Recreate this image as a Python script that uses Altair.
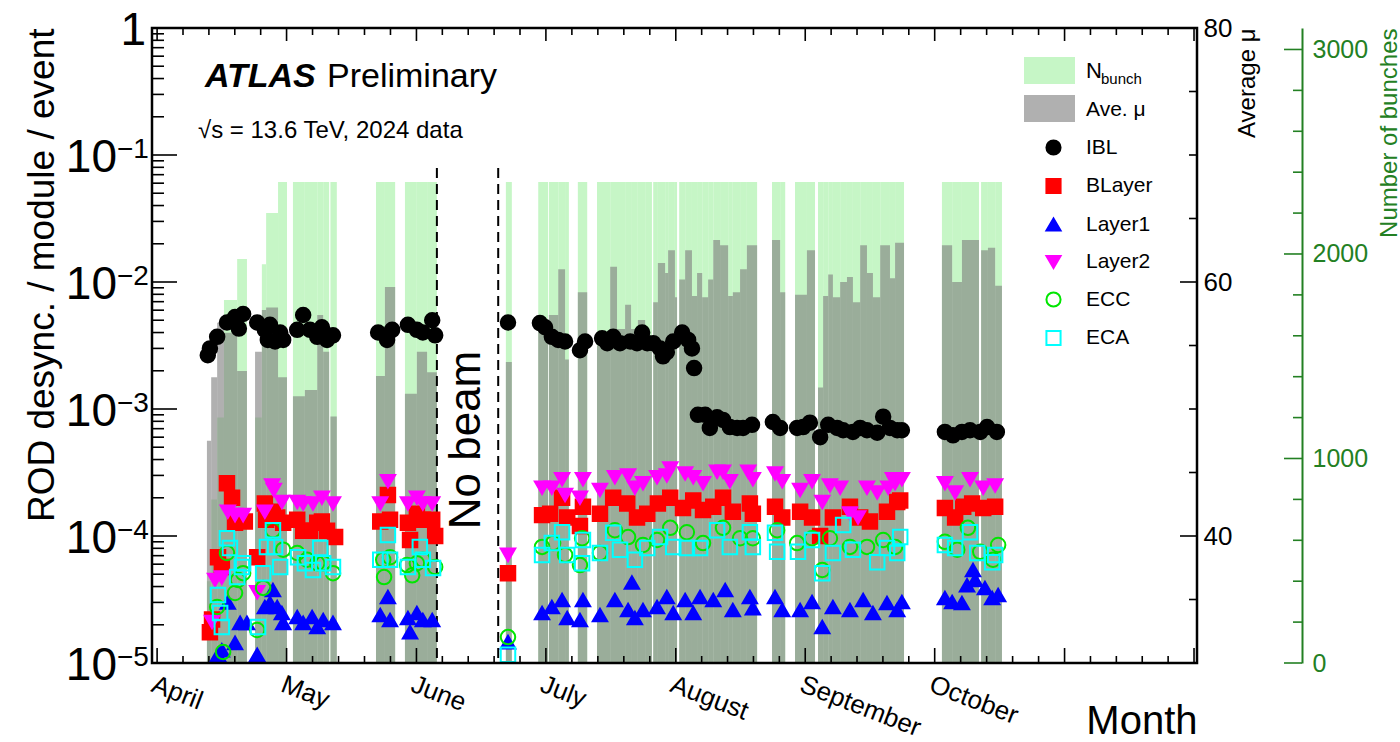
import altair as alt
import pandas as pd

FONT = "Liberation Sans"
W, H = 1045, 635
GREEN = "#238023"
GREEN_FILL = "#c6f6c6"
GREY = "#808080"

# Days counted from 1 April 2024
X_DOMAIN = [-1.6, 243.8]
MONTHS = ["April", "May", "June", "July", "August", "September", "October"]
MONTH_TICKS = [-0.4, 30.0, 60.5, 90.9, 121.4, 151.8, 182.2, 212.7, 243.1]
NO_BEAM_EDGES = [65.3, 79.7]

# (day, ROD desync. rate per module per event)
ibl = [(11.5, 2.65e-3), (12.0, 3.0e-3), (13.7, 3.7e-3), (16.0, 4.8e-3), (17.9, 5.3e-3), (18.8, 4.3e-3),
       (19.8, 5.6e-3), (23.1, 4.8e-3), (24.9, 4.2e-3), (25.6, 3.5e-3), (26.1, 4.6e-3), (27.3, 3.4e-3),
       (28.5, 4.0e-3), (29.2, 3.5e-3), (32.5, 4.2e-3), (33.9, 5.5e-3), (35.5, 4.2e-3), (37.2, 3.7e-3),
       (38.3, 4.4e-3), (39.5, 3.5e-3), (40.9, 3.8e-3),
       (51.5, 4.0e-3), (53.6, 3.5e-3), (54.8, 4.2e-3), (58.5, 4.6e-3), (60.6, 4.2e-3), (62.0, 4.0e-3),
       (64.2, 5.0e-3), (64.9, 3.8e-3),
       (82.0, 4.8e-3),
       (89.5, 4.75e-3), (90.7, 4.4e-3), (92.3, 3.7e-3), (93.8, 3.5e-3), (95.4, 3.4e-3), (98.9, 2.9e-3),
       (100.1, 3.4e-3), (104.1, 3.6e-3), (105.3, 3.3e-3), (106.7, 3.7e-3), (108.3, 3.3e-3), (110.7, 3.4e-3),
       (112.3, 3.3e-3), (113.5, 4.0e-3), (114.7, 3.3e-3), (116.1, 3.3e-3), (117.7, 3.0e-3), (118.4, 2.6e-3),
       (119.3, 2.8e-3), (120.8, 3.4e-3), (122.9, 4.0e-3), (124.3, 3.5e-3), (125.2, 3.0e-3), (125.7, 2.1e-3),
       (126.6, 9.0e-4), (128.3, 9.0e-4), (129.4, 7.1e-4), (131.1, 8.6e-4), (132.5, 8.2e-4), (134.1, 7.2e-4),
       (135.8, 7.1e-4), (137.2, 7.1e-4), (139.3, 7.5e-4), (144.2, 7.9e-4), (145.9, 7.1e-4), (149.9, 7.1e-4),
       (151.3, 7.2e-4), (152.9, 7.8e-4), (155.3, 6.0e-4), (157.2, 7.5e-4), (159.3, 7.1e-4), (160.7, 6.8e-4),
       (163.0, 6.6e-4), (164.7, 7.1e-4), (166.3, 6.8e-4), (168.7, 6.5e-4), (170.1, 8.7e-4), (171.7, 7.1e-4),
       (173.4, 6.8e-4), (174.5, 6.8e-4),
       (184.6, 6.6e-4), (186.5, 6.2e-4), (188.6, 6.6e-4), (190.5, 6.8e-4), (192.9, 6.6e-4), (194.5, 7.2e-4),
       (196.8, 6.6e-4)]

blayer = [(12.0, 1.75e-5), (12.5, 2.2e-5), (13.9, 6.8e-5), (14.8, 5.7e-5), (16.0, 2.6e-4), (17.2, 2.0e-4),
          (17.9, 1.27e-4), (19.1, 1.4e-4), (20.2, 1.3e-4), (23.1, 6.8e-5), (24.9, 1.8e-4), (25.2, 1.34e-4),
          (26.8, 1.55e-4), (27.8, 1.4e-4), (29.2, 1.27e-4), (32.5, 1.34e-4), (33.9, 1.1e-4), (35.5, 1.1e-4),
          (37.2, 1.27e-4), (38.3, 1.3e-4), (39.5, 1.1e-4), (41.4, 9.8e-5),
          (52.0, 1.3e-4), (53.8, 2.1e-4), (54.3, 1.34e-4), (58.5, 1.27e-4), (59.0, 9.3e-5), (60.6, 1.5e-4),
          (62.0, 1.34e-4), (64.2, 1.34e-4), (64.9, 1.0e-4),
          (82.0, 5.1e-5),
          (90.0, 1.46e-4), (91.9, 1.5e-4), (94.7, 2.0e-4), (95.9, 1.4e-4), (98.9, 1.2e-4), (99.6, 1.7e-4),
          (103.6, 1.5e-4), (106.7, 2.0e-4), (110.0, 1.8e-4), (112.3, 1.4e-4), (114.7, 1.5e-4), (117.2, 1.8e-4),
          (120.1, 2.0e-4), (123.1, 1.66e-4), (125.5, 1.9e-4), (127.8, 1.6e-4), (130.2, 1.7e-4), (132.5, 2.0e-4),
          (134.8, 1.55e-4), (138.8, 1.8e-4), (139.5, 1.5e-4), (144.7, 1.7e-4), (146.4, 1.4e-4), (150.6, 1.55e-4),
          (153.4, 1.4e-4), (155.3, 1.0e-4), (158.3, 1.4e-4), (162.3, 1.7e-4), (164.7, 1.4e-4), (167.0, 1.3e-4),
          (171.0, 1.55e-4), (173.4, 1.85e-4), (174.1, 1.9e-4),
          (184.6, 1.66e-4), (187.0, 1.4e-4), (188.9, 1.7e-4), (191.0, 1.8e-4), (193.6, 1.66e-4), (196.4, 1.7e-4)]

layer1 = [(13.9, 1.16e-5), (14.8, 1.26e-5), (16.2, 3.0e-5), (17.9, 1.44e-5), (19.1, 2.07e-5), (20.7, 2.07e-5),
          (23.1, 1.16e-5), (24.9, 2.76e-5), (26.1, 2.97e-5), (26.8, 3.76e-5), (27.8, 2.76e-5), (28.9, 2.48e-5),
          (29.2, 2.07e-5), (32.5, 2.3e-5), (33.9, 2.07e-5), (36.0, 2.3e-5), (37.2, 1.92e-5), (38.6, 2.18e-5),
          (40.9, 2.07e-5),
          (52.0, 2.39e-5), (53.8, 3.31e-5), (54.3, 2.18e-5), (58.5, 2.26e-5), (59.0, 1.75e-5), (60.6, 2.48e-5),
          (62.0, 2.18e-5), (64.2, 2.18e-5),
          (82.0, 1.46e-5),
          (90.0, 2.48e-5), (92.3, 2.76e-5), (94.7, 3.13e-5), (95.9, 2.26e-5), (98.9, 2.18e-5), (99.6, 3.13e-5),
          (103.6, 2.39e-5), (107.1, 3.13e-5), (110.2, 2.61e-5), (111.1, 4.3e-5), (111.8, 2.26e-5), (113.7, 2.61e-5),
          (117.0, 2.76e-5), (119.3, 3.31e-5), (120.8, 2.48e-5), (123.6, 3.13e-5), (125.5, 2.48e-5), (127.1, 3.31e-5),
          (130.2, 3.13e-5), (133.0, 3.76e-5), (134.8, 2.61e-5), (138.8, 3.31e-5), (139.5, 2.7e-5), (144.7, 3.31e-5),
          (146.4, 2.61e-5), (150.6, 2.61e-5), (153.4, 3.02e-5), (155.8, 1.92e-5), (158.3, 2.76e-5), (162.3, 2.61e-5),
          (165.4, 3.13e-5), (167.7, 2.48e-5), (171.0, 2.97e-5), (173.4, 2.61e-5), (174.5, 3.02e-5),
          (184.6, 3.25e-5), (186.3, 3.02e-5), (188.6, 2.97e-5), (189.8, 4.1e-5), (191.2, 5.4e-5), (191.7, 4.5e-5),
          (194.0, 3.9e-5), (195.7, 3.25e-5), (197.1, 3.43e-5)]

layer2 = [(12.5, 2.1e-5), (13.2, 4.5e-5), (14.8, 4.7e-5), (16.2, 1.55e-4), (17.9, 1.46e-4), (19.8, 1.46e-4),
          (23.1, 3.6e-5), (24.9, 1.55e-4), (26.6, 2.5e-4), (27.0, 2.3e-4), (28.9, 1.85e-4), (32.5, 1.85e-4),
          (33.9, 1.8e-4), (36.2, 1.8e-4), (38.3, 2.0e-4), (40.9, 1.8e-4),
          (52.0, 1.8e-4), (53.8, 2.7e-4), (58.5, 1.8e-4), (60.6, 2.0e-4), (62.0, 1.8e-4), (64.2, 1.8e-4),
          (82.0, 7.1e-5),
          (90.0, 2.4e-4), (92.3, 2.4e-4), (94.7, 2.8e-4), (95.4, 2.1e-4), (98.9, 2.0e-4), (99.6, 2.8e-4),
          (103.6, 2.3e-4), (107.1, 2.9e-4), (110.2, 3.0e-4), (111.8, 2.4e-4), (113.7, 2.6e-4), (117.0, 2.9e-4),
          (119.3, 3.0e-4), (120.1, 3.4e-4), (123.6, 3.1e-4), (125.5, 2.9e-4), (127.8, 2.6e-4), (131.1, 3.2e-4),
          (132.5, 3.2e-4), (134.1, 2.7e-4), (138.4, 3.2e-4), (139.5, 2.8e-4), (144.7, 3.1e-4), (146.4, 2.7e-4),
          (150.6, 2.3e-4), (153.4, 2.7e-4), (155.8, 1.85e-4), (157.6, 2.5e-4), (160.0, 2.4e-4), (162.3, 1.5e-4),
          (164.2, 1.4e-4), (166.3, 2.4e-4), (168.7, 2.2e-4), (171.3, 2.4e-4), (172.4, 2.8e-4), (172.9, 2.6e-4),
          (174.5, 2.8e-4),
          (184.6, 2.6e-4), (187.0, 2.2e-4), (190.5, 2.8e-4), (193.6, 2.4e-4), (196.4, 2.5e-4)]

ecc = [(13.7, 2.76e-5), (15.1, 1.22e-5), (16.0, 7.35e-5), (17.9, 3.56e-5), (18.6, 4.5e-5), (19.8, 5.1e-5),
       (23.1, 1.82e-5), (24.5, 3.9e-5), (26.8, 1.11e-4), (29.2, 7.8e-5), (32.5, 7.35e-5), (34.8, 6.5e-5),
       (37.2, 6.1e-5), (38.6, 6.1e-5), (40.9, 5.1e-5),
       (52.7, 6.5e-5), (52.9, 4.75e-5), (54.3, 6.8e-5), (58.3, 5.9e-5), (59.5, 4.9e-5), (60.6, 6.1e-5),
       (62.0, 6.5e-5), (64.9, 5.7e-5),
       (82.0, 1.6e-5),
       (90.0, 8.2e-5), (92.6, 8.8e-5), (95.4, 7.1e-5), (98.9, 5.9e-5), (99.4, 9.6e-5), (103.6, 7.35e-5),
       (107.1, 1.11e-4), (110.2, 9.8e-5), (113.7, 8.5e-5), (117.0, 9.3e-5), (120.1, 1.16e-4), (124.0, 1.07e-4),
       (127.8, 8.8e-5), (132.5, 1.16e-4), (136.5, 9.6e-5), (139.5, 9.6e-5), (145.2, 1.11e-4), (149.9, 8.8e-5),
       (153.4, 9.6e-5), (155.8, 5.4e-5), (157.6, 9.6e-5), (162.3, 8.2e-5), (166.3, 8.2e-5), (170.1, 9.3e-5),
       (172.9, 8.2e-5),
       (184.6, 9.0e-5), (187.5, 7.8e-5), (190.0, 1.16e-4), (192.9, 7.5e-5), (195.9, 6.5e-5), (197.1, 8.5e-5)]

eca = [(13.9, 3.43e-5), (14.4, 2.48e-5), (14.8, 1.92e-5), (16.0, 9.6e-5), (16.7, 8.05e-5), (18.4, 4.75e-5),
       (19.5, 5.7e-5), (19.8, 6.1e-5), (23.3, 1.92e-5), (24.5, 5.1e-5), (25.4, 8.2e-5), (26.8, 1.11e-4),
       (27.3, 8.2e-5), (28.5, 5.7e-5), (32.7, 6.8e-5), (34.3, 6.1e-5), (36.2, 5.4e-5), (37.9, 8.05e-5),
       (38.6, 6.1e-5), (40.9, 5.7e-5),
       (52.0, 6.5e-5), (53.8, 1.02e-4), (54.3, 6.5e-5), (58.5, 5.7e-5), (61.3, 8.2e-5), (62.0, 6.5e-5),
       (64.4, 5.6e-5),
       (82.0, 1.16e-5),
       (90.0, 7.1e-5), (92.3, 8.8e-5), (94.7, 1.07e-4), (95.9, 7.1e-5), (99.4, 6.1e-5), (99.6, 9.3e-5),
       (103.6, 7.35e-5), (106.7, 1.06e-4), (108.3, 7.8e-5), (111.8, 6.5e-5), (114.7, 8.05e-5), (117.7, 9.8e-5),
       (120.8, 8.2e-5), (124.0, 8.05e-5), (127.1, 8.05e-5), (131.1, 1.11e-4), (134.1, 8.2e-5), (138.8, 1.07e-4),
       (139.5, 8.2e-5), (144.7, 1.06e-4), (145.2, 7.5e-5), (150.1, 7.5e-5), (153.4, 9.3e-5), (155.8, 5.1e-5),
       (158.3, 7.35e-5), (160.7, 1.22e-4), (163.0, 7.8e-5), (168.7, 6.2e-5), (171.0, 8.05e-5), (173.4, 7.35e-5),
       (174.1, 9.8e-5),
       (184.6, 8.5e-5), (187.0, 8.05e-5), (190.5, 1.07e-4), (192.2, 7.35e-5), (195.7, 6.2e-5), (196.4, 7.1e-5)]

# LHC fills: (first day, last day, number of bunches, average pile-up)
fills = [
    (11.3, 12.3, 400, 47.5), (12.3, 13.7, 800, 52.5), (13.7, 15.3, 1200, 56.8), (15.3, 18.4, 1775, 56.0),
    (18.4, 20.7, 1975, 53.0), (22.6, 24.2, 1200, 54.5), (24.2, 25.2, 1950, 57.8), (25.2, 28.0, 2200, 58.0),
    (28.0, 30.1, 2352, 52.5), (31.5, 34.3, 2352, 51.0), (34.3, 37.2, 2352, 51.5), (37.2, 38.6, 2352, 57.4),
    (38.6, 40.0, 2352, 54.5), (40.3, 41.8, 2352, 49.4), (51.0, 53.1, 2352, 52.6), (53.1, 55.5, 2352, 59.6),
    (57.8, 60.6, 2352, 51.2), (60.6, 63.0, 2352, 54.5), (63.0, 65.3, 2352, 52.9), (81.5, 82.9, 2352, 53.7),
    (89.1, 91.4, 2352, 56.3), (91.6, 93.8, 2352, 57.4), (93.8, 95.4, 2352, 61.0), (95.4, 96.3, 2352, 53.9),
    (98.4, 100.6, 2352, 59.2), (102.9, 106.0, 2352, 55.0), (106.0, 107.6, 2352, 61.2), (107.6, 109.5, 2352, 56.3),
    (109.5, 110.9, 2352, 58.2), (110.9, 112.5, 2352, 56.3), (112.5, 114.2, 2352, 57.0), (114.2, 115.8, 2352, 55.7),
    (116.1, 117.2, 2352, 58.4), (117.2, 118.9, 2352, 61.5), (118.9, 119.6, 2352, 60.7), (119.6, 121.2, 2352, 62.5),
    (121.2, 121.7, 2352, 58.8), (122.2, 123.6, 2352, 60.2), (123.6, 125.2, 2352, 62.5), (125.2, 126.4, 2352, 58.9),
    (126.4, 127.6, 2352, 60.7), (127.6, 129.0, 2352, 58.8), (129.0, 130.2, 2352, 60.2), (130.2, 131.8, 2352, 63.3),
    (131.8, 133.7, 2352, 62.9), (133.7, 134.8, 2352, 58.9), (134.8, 136.5, 2352, 59.2), (136.5, 138.1, 2352, 61.0),
    (138.1, 140.5, 2352, 62.9), (144.0, 145.9, 2352, 63.3), (145.9, 147.1, 2352, 59.2), (149.4, 152.2, 2352, 59.0),
    (152.2, 154.1, 2352, 62.5), (154.8, 156.0, 2352, 51.7), (156.0, 157.2, 2352, 58.9), (157.2, 158.3, 2352, 60.6),
    (158.3, 160.0, 2352, 58.8), (160.0, 161.6, 2352, 60.0), (161.6, 163.0, 2352, 60.4), (163.0, 164.7, 2352, 58.4),
    (164.7, 166.3, 2352, 62.9), (166.3, 167.7, 2352, 60.7), (167.7, 169.4, 2352, 58.8), (169.4, 171.7, 2352, 62.9),
    (171.7, 172.9, 2352, 60.3), (172.9, 175.0, 2352, 63.1), (183.9, 186.3, 2352, 62.9), (186.3, 188.6, 2352, 60.0),
    (188.6, 192.6, 2352, 63.3), (193.1, 194.7, 2352, 62.5), (194.7, 196.4, 2352, 62.7), (196.4, 198.0, 2352, 59.7),
]

SERIES = ["IBL", "BLayer", "Layer1", "Layer2", "ECC", "ECA"]
SHAPES = ["circle", "square", "triangle-up", "triangle-down", "circle", "square"]
FILLS = ["#000000", "#ff0000", "#0000ff", "#ff00ff", "transparent", "transparent"]
STROKES = ["#000000", "#ff0000", "#0000ff", "#ff00ff", "#00e600", "#00ffff"]

rows = []
for name, pts in zip(SERIES, [ibl, blayer, layer1, layer2, ecc, eca]):
    rows += [{"series": name, "day": d, "rate": r} for d, r in pts]
points = pd.DataFrame(rows)
fill_df = pd.DataFrame(fills, columns=["start", "end", "nbunch", "mu"])
one = pd.DataFrame({"k": [0]})

x_scale = alt.Scale(domain=X_DOMAIN, nice=False, zero=False)
log_scale = alt.Scale(type="log", domain=[1e-5, 1], nice=False)
mu_scale = alt.Scale(domain=[30, 80], nice=False, zero=False)
nb_scale = alt.Scale(domain=[0, 3105], nice=False, zero=False)

# tick positions
log_major = [1e-5, 1e-4, 1e-3, 1e-2, 1e-1, 1.0]
log_minor = [m * 10.0 ** k for k in range(-5, 0) for m in range(2, 10)]
x_minor = []
for a, b in zip(MONTH_TICKS[:-1], MONTH_TICKS[1:]):
    x_minor += [a + (b - a) * i / 5 for i in range(1, 5)]
mu_major = [40, 60, 80]
mu_minor = [35, 45, 50, 55, 65, 70, 75]
nb_major = [0, 1000, 2000, 3000]
nb_minor = [v for v in range(200, 3100, 200) if v % 1000]

# ---------- axes (one object per scale, reused by every layer on it) ----------
month_expr = f"{MONTHS}[round((datum.value - ({MONTH_TICKS[0]})) / 30.44)]"
x_axis = alt.Axis(orient="bottom", values=MONTH_TICKS[:len(MONTHS)], labelExpr=month_expr,
                  ticks=False, domain=False, grid=False, labelAngle=21, labelAlign="left",
                  labelBaseline="top", labelFont=FONT, labelFontSize=26, labelColor="black",
                  labelPadding=8, labelFlush=False, labelOverlap=False,
                  title="Month", titleFont=FONT, titleFontSize=40, titleFontWeight="normal",
                  titleColor="black", titleAlign="right", titleBaseline="alphabetic",
                  titleX=W, titleY=70)
y_axis = alt.Axis(orient="left", labels=False, ticks=False, domain=False, grid=False,
                  title="ROD desync. / module / event", titleFont=FONT, titleFontSize=37,
                  titleFontWeight="normal", titleColor="black", titleAngle=270,
                  titleAlign="right", titleBaseline="middle", titleX=-110, titleY=0)
mu_axis = alt.Axis(orient="right", values=mu_major, ticks=False, domain=False, grid=False,
                   labelFont=FONT, labelFontSize=26, labelColor="black", labelPadding=6,
                   title="Average μ", titleFont=FONT, titleFontSize=24, titleFontWeight="normal",
                   titleColor="black", titleAngle=270, titleAlign="right", titleBaseline="middle",
                   titleX=50, titleY=0)
nb_axis = alt.Axis(orient="right", offset=105, values=nb_major, format="d", ticks=False, grid=False,
                   domain=True, domainColor=GREEN, domainWidth=2,
                   labelFont=FONT, labelFontSize=25, labelColor=GREEN, labelPadding=10,
                   title="Number of bunches", titleFont=FONT, titleFontSize=24, titleFontWeight="normal",
                   titleColor=GREEN, titleAngle=270, titleAlign="right", titleBaseline="middle",
                   titleX=87, titleY=0)


def X(field):
    return alt.X(field, scale=x_scale, axis=x_axis)


def hrule(values, scale, axis, x0, x1, color="black"):
    return alt.Chart(pd.DataFrame({"v": values})).mark_rule(color=color, strokeWidth=1.6).encode(
        y=alt.Y("v:Q", scale=scale, axis=axis), x=alt.value(x0), x2=alt.value(x1))


def vrule(values, y0, y1):
    return alt.Chart(pd.DataFrame({"v": values})).mark_rule(color="black", strokeWidth=1.6).encode(
        x=X("v:Q"), y=alt.value(y0), y2=alt.value(y1))


def label(text, x, y, size, **kw):
    return alt.Chart(one).mark_text(text=text, font=FONT, fontSize=size, align="left",
                                    baseline="alphabetic", color="black", **kw).encode(
        x=alt.value(x), y=alt.value(y))


# ---------- number of bunches (green) ----------
green_bars = alt.Chart(fill_df).mark_rect(color=GREEN_FILL).encode(
    x=X("start:Q"), x2="end:Q",
    y=alt.Y("nbunch:Q", scale=nb_scale, axis=nb_axis), y2=alt.value(H))
bunch_layer = alt.layer(
    green_bars,
    hrule(nb_major, nb_scale, nb_axis, W + 105 - 18, W + 105, GREEN),
    hrule(nb_minor, nb_scale, nb_axis, W + 105 - 9, W + 105, GREEN),
)

# ---------- average mu (grey) ----------
grey_bars = alt.Chart(fill_df).mark_rect(color=GREY, opacity=0.62).encode(
    x=X("start:Q"), x2="end:Q",
    y=alt.Y("mu:Q", scale=mu_scale, axis=mu_axis), y2=alt.value(H))
mu_layer = alt.layer(
    grey_bars,
    hrule(mu_major, mu_scale, mu_axis, W - 17, W),
    hrule(mu_minor, mu_scale, mu_axis, W - 8, W),
)

# ---------- desync rates ----------
leg = alt.Legend(title=None, orient="none", legendX=891, legendY=109, padding=0,
                 symbolSize=200, symbolStrokeWidth=2, symbolOpacity=1,
                 labelFont=FONT, labelFontSize=21, labelColor="black", labelOffset=22, rowPadding=15.5)
marks = alt.Chart(points).mark_point(size=210, strokeWidth=2, opacity=1).encode(
    x=X("day:Q"),
    y=alt.Y("rate:Q", scale=log_scale, axis=y_axis),
    shape=alt.Shape("series:N", scale=alt.Scale(domain=SERIES, range=SHAPES), legend=leg),
    fill=alt.Fill("series:N", scale=alt.Scale(domain=SERIES, range=FILLS), legend=leg),
    stroke=alt.Stroke("series:N", scale=alt.Scale(domain=SERIES, range=STROKES), legend=leg),
)

no_beam_lines = alt.Chart(pd.DataFrame({"day": NO_BEAM_EDGES})).mark_rule(
    color="black", strokeWidth=2, strokeDash=[10, 6]).encode(
    x=X("day:Q"), y=alt.value(140), y2=alt.value(H))
no_beam_text = alt.Chart(pd.DataFrame({"day": [72.4], "rate": [5.7e-4]})).mark_text(
    text="No beam", font=FONT, fontSize=44, angle=270, align="center", baseline="middle",
    color="black").encode(
    x=X("day:Q"), y=alt.Y("rate:Q", scale=log_scale, axis=y_axis))

# left axis labels written as 10 with a raised exponent
exp_df = pd.DataFrame({"v": log_major[:-1], "e": ["−5", "−4", "−3", "−2", "−1"]})
tens = alt.Chart(exp_df).mark_text(text="10", font=FONT, fontSize=46, align="right",
                                   baseline="alphabetic", dy=17, color="black").encode(
    x=alt.value(-35), y=alt.Y("v:Q", scale=log_scale, axis=y_axis))
exps = alt.Chart(exp_df).mark_text(font=FONT, fontSize=28, align="left",
                                   baseline="alphabetic", dy=3, color="black").encode(
    x=alt.value(-35), y=alt.Y("v:Q", scale=log_scale, axis=y_axis), text="e:N")
unit = alt.Chart(pd.DataFrame({"v": [1.0]})).mark_text(text="1", font=FONT, fontSize=46, align="right",
                                                     baseline="alphabetic", dy=17, color="black").encode(
    x=alt.value(-6), y=alt.Y("v:Q", scale=log_scale, axis=y_axis))

legend_extra = alt.layer(
    alt.Chart(one).mark_rect(color=GREEN_FILL).encode(
        x=alt.value(872), x2=alt.value(923), y=alt.value(29), y2=alt.value(56)),
    alt.Chart(one).mark_rect(color=GREY, opacity=0.62).encode(
        x=alt.value(872), x2=alt.value(923), y=alt.value(67), y2=alt.value(94)),
    label("N", 934, 50, 22),
    label("bunch", 949, 56, 15),
    label("Ave. μ", 934, 88, 21),
)

frame = alt.Chart(one).mark_rect(fill="transparent", stroke="black", strokeWidth=2.5).encode(
    x=alt.value(0), x2=alt.value(W), y=alt.value(0), y2=alt.value(H))

rate_layer = alt.layer(
    no_beam_lines,
    hrule(log_major, log_scale, y_axis, 0, 25),
    hrule(log_minor, log_scale, y_axis, 0, 12),
    vrule(MONTH_TICKS, H, H - 15),
    vrule(x_minor, H, H - 7),
    vrule(MONTH_TICKS, 0, 13),
    vrule(x_minor, 0, 7),
    marks,
    no_beam_text,
    tens, exps, unit,
    label("ATLAS", 53, 59, 34, fontWeight="bold", fontStyle="italic"),
    label("Preliminary", 175, 59, 34),
    label("√s = 13.6 TeV, 2024 data", 46, 110, 24),
    legend_extra,
    frame,
)

chart = alt.layer(bunch_layer, mu_layer, rate_layer).resolve_scale(
    y="independent"
).properties(
    width=W, height=H,
    autosize=alt.AutoSizeParams(type="none"),
    padding={"left": 152, "top": 28, "right": 203, "bottom": 79},
).configure_view(strokeWidth=0).configure(font=FONT)

chart.save("out.html", embed_options={"renderer": "svg", "actions": False})
